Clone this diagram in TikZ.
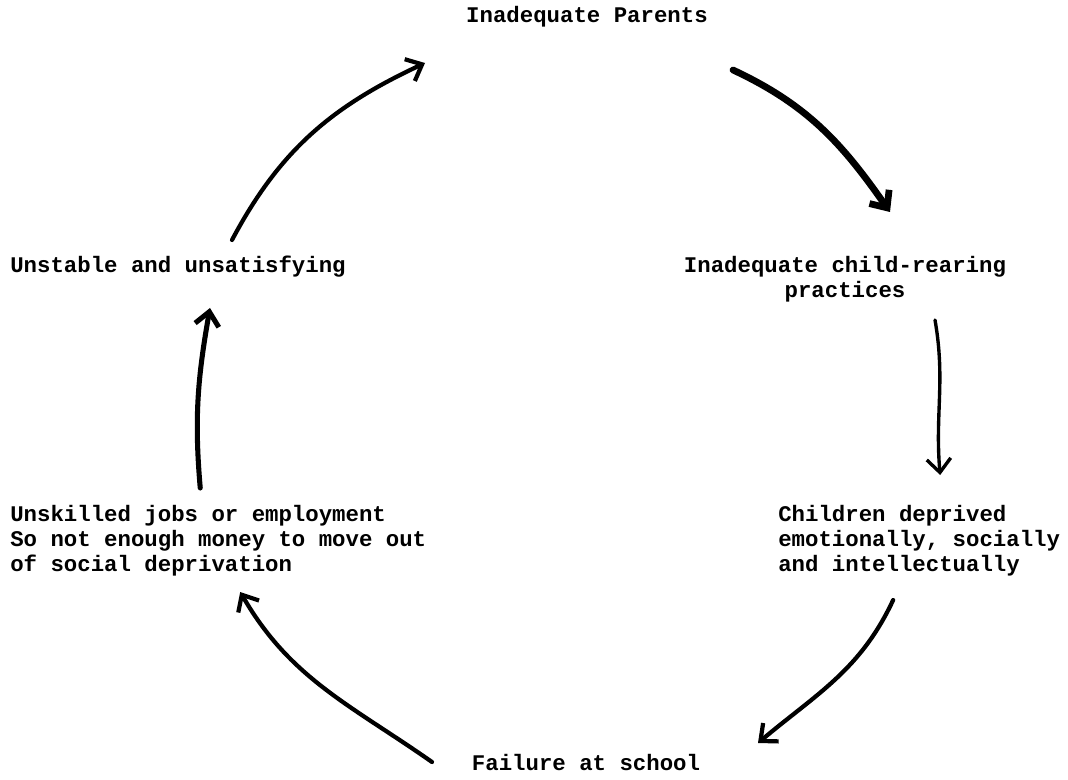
\documentclass[tikz,border=0pt]{standalone}
\usepackage{fontspec}
\setmonofont{Liberation Mono}
\usepackage{tikz}
\usetikzlibrary{calc}
\usetikzlibrary{arrows.meta}

\tikzset{
  stage/.style={font=\ttfamily\bfseries\fontsize{15.9}{17.8}\selectfont, inner sep=0pt},
  cyc/.style={line width=3pt, line cap=round, -{Straight Barb[length=3.4mm,width=6mm]}}
}

\begin{document}
\begin{tikzpicture}[x=0.025cm, y=0.025cm]
\useasboundingbox (0,0) rectangle (1068,779);

\node[stage] (parents) at (587,762) {Inadequate Parents};
\node[stage, align=center] (rearing) at (845,500) {Inadequate child-rearing\\practices};
\node[stage, align=left, anchor=west] (children) at (778,238) {Children deprived\\emotionally, socially\\and intellectually};
\node[stage] (failure) at (586,16) {Failure at school};
\node[stage, align=left, anchor=west] (unskilled) at (10,238) {Unskilled jobs or employment\\So not enough money to move out\\of social deprivation};
\node[stage, anchor=west] (unstable) at (10,512) {Unstable and unsatisfying};

% round the cycle
\draw[cyc, line width=4.8pt] ($(parents.center)+(146,-53)$) to[out=-25, in=125] ($(rearing.center)+(45,67)$);
\draw[cyc, line width=2.4pt] ($(rearing.center)+(90,-41)$) to[out=-80, in=95] ($(children.center)+(21,66)$);
\draw[cyc] ($(children.center)+(-26,-59)$) to[out=-115, in=40] ($(failure.center)+(172,20)$);
\draw[cyc] ($(failure.center)+(-154,1)$) to[out=145, in=-60] ($(unskilled.center)+(22,-51)$);
\draw[cyc, line width=3.6pt] ($(unskilled.center)+(-18,53)$) to[out=95, in=-100] ($(unstable.center)+(32,-41)$);
\draw[cyc] ($(unstable.center)+(54,27)$) to[out=62, in=205] ($(parents.center)+(-162,-46)$);

\end{tikzpicture}
\end{document}
